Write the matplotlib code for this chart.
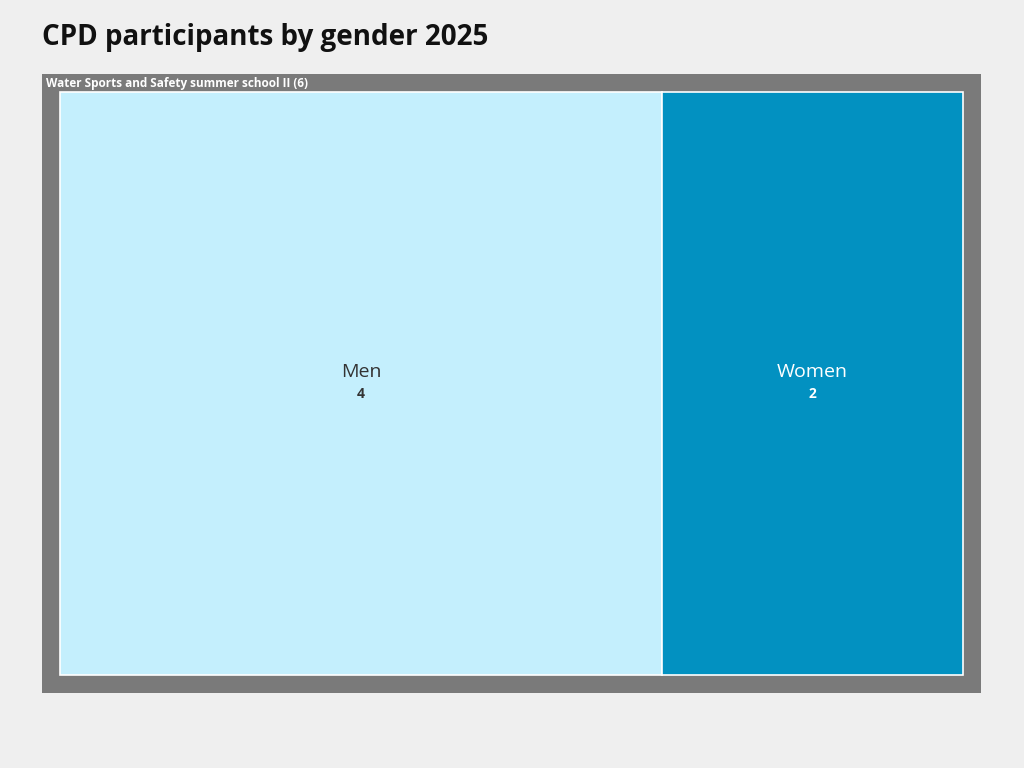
import matplotlib
matplotlib.use("Agg")
import matplotlib.pyplot as plt
from matplotlib.patches import Rectangle

plt.rcParams['font.family'] = ['Open Sans', 'DejaVu Sans']

title = "CPD participants by gender 2025"
group = "Water Sports and Safety summer school II"
categories = ["Men", "Women"]
values = [4, 2]
colors = ["#c4effd", "#0291c1"]
text_colors = ["#333333", "#ffffff"]

fig = plt.figure(figsize=(10.24, 7.68), dpi=100)
fig.patch.set_facecolor("#efefef")
ax = fig.add_axes([0, 0, 1, 1])
ax.set_xlim(0, 1024)
ax.set_ylim(768, 0)
ax.axis("off")

fig.text(42/1024, 1-38/768, title, fontsize=20, fontweight="bold", va="center", ha="left", color="#111111")

# outer group box
ox0, oy0, ox1, oy1 = 42, 74, 981, 693
ax.add_patch(Rectangle((ox0, oy0), ox1-ox0, oy1-oy0, facecolor="#7a7a7a", edgecolor="none"))
ax.text(46, 83, f"{group} ({sum(values)})", fontsize=8.5, fontweight="bold", color="white", va="center", ha="left")

ix0, iy0, ix1, iy1 = 60, 92, 963, 675
total = sum(values)
x = ix0
for cat, v, c, tc in zip(categories, values, colors, text_colors):
    w = (ix1 - ix0) * v / total
    ax.add_patch(Rectangle((x, iy0), w, iy1-iy0, facecolor=c, edgecolor="white", linewidth=1.2))
    cx = x + w/2
    ax.text(cx, 372, cat, fontsize=14, color=tc, ha="center", va="center")
    ax.text(cx, 394, str(v), fontsize=10, fontweight="bold", color=tc, ha="center", va="center")
    x += w

fig.savefig("out.png", dpi=100, facecolor=fig.get_facecolor())
